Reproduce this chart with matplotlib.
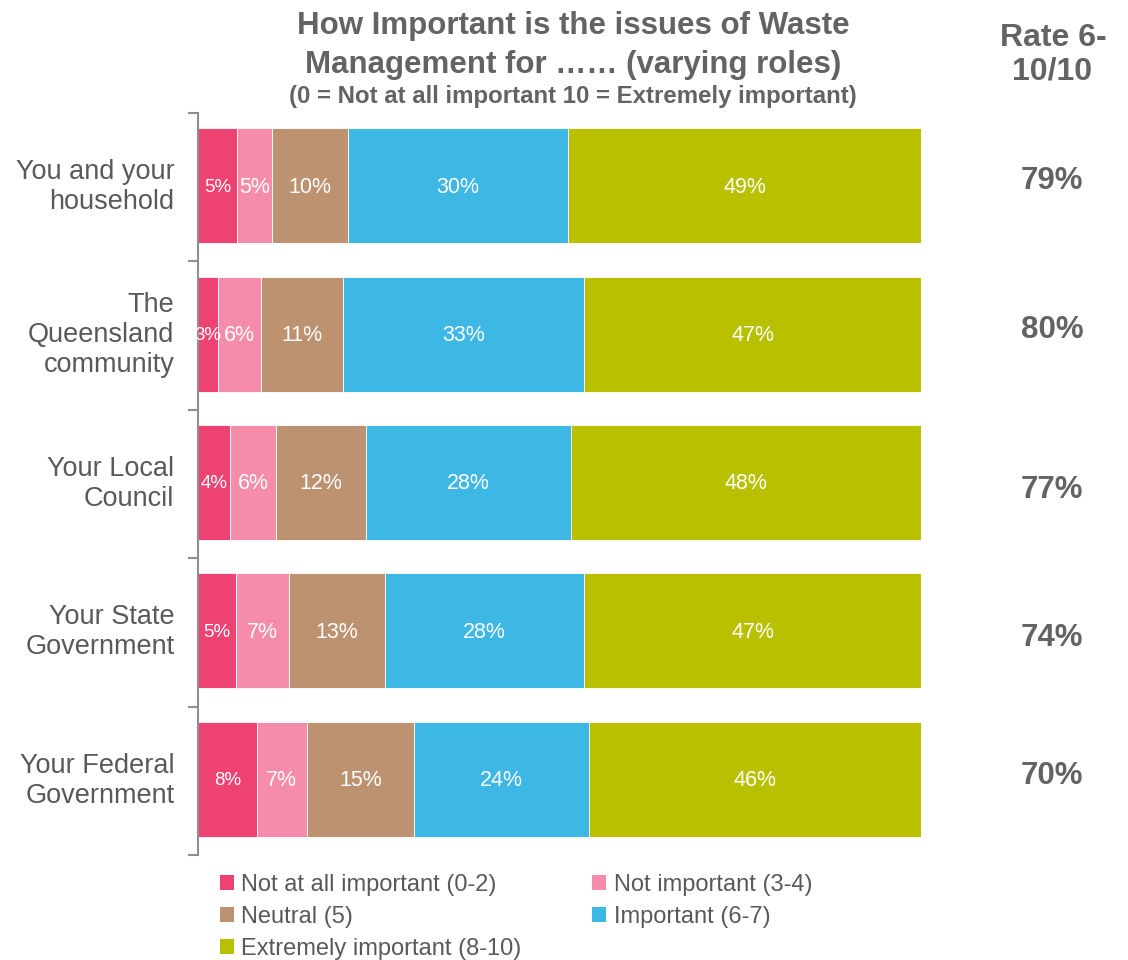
import matplotlib.pyplot as plt
import numpy as np
from matplotlib.patches import Patch
from matplotlib.transforms import blended_transform_factory

plt.rcParams['font.family'] = ['Liberation Sans', 'DejaVu Sans']

roles = ['You and your\nhousehold', 'The\nQueensland\ncommunity', 'Your Local\nCouncil',
         'Your State\nGovernment', 'Your Federal\nGovernment']
levels = ['Not at all important (0-2)', 'Not important (3-4)', 'Neutral (5)',
          'Important (6-7)', 'Extremely important (8-10)']
colors = ['#EE4372', '#F58CA9', '#BD9270', '#3DB7E4', '#B8C000']

# share of respondents (%) per role, one list per rating band
not_at_all = [5.4, 2.8, 4.4, 5.2, 8.1]
not_important = [4.9, 5.9, 6.4, 7.4, 7.0]
neutral = [10.4, 11.4, 12.4, 13.2, 14.8]
important = [30.5, 33.3, 28.4, 27.6, 24.2]
extremely = [48.8, 46.6, 48.4, 46.6, 45.9]
series = [not_at_all, not_important, neutral, important, extremely]

# "Rate 6-10/10" = important + extremely important
rate_6_10 = np.round(np.array(important) + np.array(extremely)).astype(int)

grey = '#595959'
title_grey = '#636363'
fig = plt.figure(figsize=(11.28, 9.6), dpi=100)
ax = fig.add_axes([198/1128, 1-855/960, 723/1128, 742/960])

y = np.arange(len(roles))
left = np.zeros(len(roles))
for i, vals in enumerate(series):
    vals = np.array(vals)
    ax.barh(y - 0.01, vals, left=left, height=0.775, color=colors[i],
            edgecolor='white', linewidth=0.6)
    for yy, l, v in zip(y, left, vals):
        ax.text(l + v/2, yy, f'{v:.0f}%', ha='center', va='center',
                color='white', fontsize=13.5 if i == 0 else 15.5)
    left += vals

ax.set_xlim(0, 100)
ax.set_ylim(len(roles) - 0.5, -0.5)

# ticks on the category boundaries, labels in the middle of each band
ax.set_yticks(np.arange(-0.5, len(roles)), labels=[])
ax.set_yticks(y - 0.035, labels=roles, minor=True)
ax.tick_params(axis='y', which='major', length=7, width=1.5, color='#909090')
ax.tick_params(axis='y', which='minor', length=0, pad=17, labelsize=19.5,
               labelcolor=grey)
for lab in ax.get_yticklabels(minor=True):
    lab.set_linespacing(1.2)
ax.xaxis.set_visible(False)
for s in ['top', 'right', 'bottom']:
    ax.spines[s].set_visible(False)
ax.spines['left'].set_color('#909090')
ax.spines['left'].set_linewidth(1.5)

fig.text(573/1128, 1-34/960, 'How Important is the issues of Waste', ha='center',
         va='baseline', fontsize=22.5, fontweight='bold', color=title_grey)
fig.text(573/1128, 1-73.5/960, 'Management for …… (varying roles)', ha='center',
         va='baseline', fontsize=22.5, fontweight='bold', color=title_grey)
fig.text(573/1128, 1-103/960, '(0 = Not at all important 10 = Extremely important)',
         ha='center', va='baseline', fontsize=17.3, fontweight='bold', color=title_grey)

fig.text(1053/1128, 1-46.5/960, 'Rate 6-', ha='center', va='baseline',
         fontsize=23, fontweight='bold', color=title_grey)
fig.text(1052/1128, 1-79.5/960, '10/10', ha='center', va='baseline',
         fontsize=23, fontweight='bold', color=title_grey)

rate_shift = [-0.045, -0.04, 0.04, 0.04, -0.03]
tr = blended_transform_factory(fig.transFigure, ax.transData)
for yy, r, d in zip(y, rate_6_10, rate_shift):
    ax.text(1052/1128, yy + d, f'{r}%', transform=tr, ha='center', va='center',
            fontsize=22.5, fontweight='bold', color=title_grey)

handles = [Patch(facecolor=c, edgecolor='none') for c in colors]
order = [0, 2, 4, 1, 3]
fig.legend([handles[k] for k in order], [levels[k] for k in order], ncol=2,
           loc='upper left', bbox_to_anchor=(220/1128, 1-874/960), frameon=False,
           fontsize=17, labelcolor=grey, handlelength=0.6, handleheight=0.6,
           handletextpad=0.3, columnspacing=3.0, labelspacing=0.43,
           borderaxespad=0, borderpad=0)

fig.savefig('out.png', dpi=100)
